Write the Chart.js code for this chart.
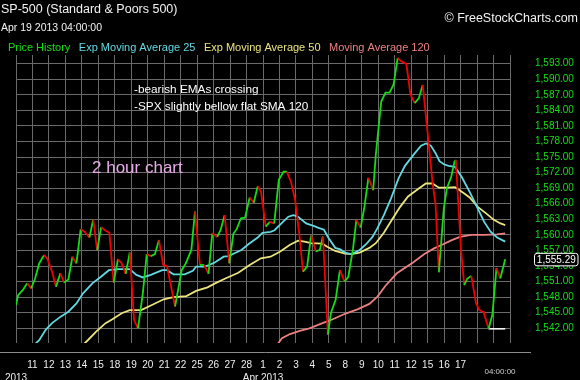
<!DOCTYPE html>
<html>
<head>
<meta charset="utf-8">
<script src="https://cdn.jsdelivr.net/npm/chart.js@4.4.1/dist/chart.umd.min.js"></script>
<style>
  html, body { margin: 0; padding: 0; background: #000; }
</style>
</head>
<body>
<canvas id="chart" width="580" height="380"></canvas>
<script>
// x is counted in trading days, 0 = Mar 8 2013
const dayLabels = ["", "11", "12", "13", "14", "15", "18", "19", "20", "21", "22", "25", "26", "27", "28",
    "1", "2", "3", "4", "5", "8", "9", "10", "11", "12", "15", "16", "17", "", "", ""]
const monthLabels = [["2013", 0], ["Apr 2013", 15]]
const yTicks = [1542, 1545, 1548, 1551, 1554, 1557, 1560, 1563, 1566, 1569, 1572, 1575, 1578, 1581, 1584, 1587, 1590, 1593]

const priceDays = [0, 0.13, 0.42, 0.68, 0.92, 1.16, 1.41, 1.70, 1.90, 2.19,
    2.43, 2.69, 2.92, 3.18, 3.43, 3.67, 3.93, 4.16, 4.46, 4.69,
    4.93, 5.17, 5.44, 5.67, 5.93, 6.19, 6.42, 6.66, 6.91, 7.17,
    7.41, 7.70, 7.94, 8.19, 8.44, 8.68, 8.94, 9.17, 9.66, 9.92,
    10.06, 10.31, 10.65, 10.87, 11.17, 11.43, 11.69, 11.92, 12.22, 12.42,
    12.67, 12.95, 13.20, 13.40, 13.66, 13.91, 14.19, 14.44, 14.68, 14.88,
    15.17, 15.41, 15.68, 15.96, 16.25, 16.45, 16.71, 16.95, 17.21, 17.43,
    17.68, 17.92, 18.21, 18.45, 18.64, 18.94, 19.13, 19.41, 19.67, 19.95,
    20.18, 20.47, 20.67, 20.93, 21.16, 21.40, 21.69, 21.85, 22.18, 22.44,
    22.69, 22.93, 23.18, 23.37, 23.62, 23.71, 23.95, 24.21, 24.46, 24.70,
    24.99, 25.29, 25.48, 25.68, 25.84, 25.98, 26.17, 26.43, 26.63, 26.71,
    27.02, 27.22, 27.41, 27.65, 27.94, 28.14, 28.40, 28.70, 28.93, 29.18,
    29.41, 29.71]
const priceValues = [1546.5, 1548.4, 1549.4, 1550.7, 1549.7, 1551.6, 1554.5, 1556.1, 1555.4, 1552.9,
    1550.0, 1552.6, 1550.8, 1551.4, 1555.8, 1554.5, 1561.1, 1560.6, 1559.5, 1563.0,
    1557.0, 1561.5, 1560.8, 1560.4, 1550.8, 1555.3, 1554.5, 1552.5, 1556.6, 1543.6,
    1542.0, 1548.7, 1556.3, 1555.9, 1556.3, 1559.0, 1554.2, 1554.0, 1546.2, 1550.7,
    1553.2, 1554.5, 1557.1, 1564.5, 1554.2, 1554.2, 1552.5, 1560.3, 1559.6, 1560.9,
    1563.8, 1554.5, 1560.2, 1561.1, 1563.2, 1563.3, 1567.2, 1566.2, 1569.4, 1568.3,
    1561.6, 1562.5, 1562.2, 1570.6, 1572.2, 1572.2, 1570.1, 1566.7, 1560.0, 1552.9,
    1553.9, 1559.9, 1556.8, 1557.1, 1559.7, 1540.8, 1545.0, 1547.5, 1553.2, 1551.0,
    1551.9, 1557.4, 1562.9, 1561.4, 1565.4, 1571.0, 1568.6, 1575.4, 1585.7, 1587.4,
    1587.4, 1589.0, 1594.1, 1593.5, 1593.1, 1592.9, 1587.1, 1585.4, 1586.3, 1588.9,
    1579.9, 1570.2, 1565.8, 1552.8, 1559.3, 1565.1, 1569.0, 1571.2, 1574.1, 1574.4,
    1557.4, 1550.3, 1551.6, 1552.1, 1546.8, 1545.5, 1545.1, 1541.9, 1544.6, 1553.6,
    1551.6, 1555.29]

const ema25Days = [1.10, 1.41, 1.80, 2.19, 2.69, 3.18, 3.67, 4.06, 4.65, 5.14, 5.64, 6.23, 6.91, 7.31, 7.70,
    8.19, 8.88, 9.17, 9.56, 10.25, 10.74, 10.94, 11.43, 11.73, 12.02, 12.61, 12.91, 13.30, 13.69, 14.19,
    14.68, 14.97, 15.46, 15.70, 16.15, 16.54, 16.84, 17.13, 17.62, 18.11, 18.41, 18.70, 18.96, 19.39, 19.69,
    19.98, 20.38, 20.87, 21.26, 21.65, 21.95, 22.34, 22.77, 23.23, 23.62, 24.21, 24.60, 24.90, 25.19, 25.49,
    25.72, 25.98, 26.27, 26.66, 27.06, 27.55, 28.04, 28.43, 28.82, 29.22, 29.71]
const ema25Values = [1538.8, 1539.7, 1541.7, 1543.0, 1544.2, 1545.2, 1546.8, 1548.7, 1550.7, 1551.9, 1553.2, 1553.4, 1553.4, 1552.3, 1551.8,
    1552.3, 1553.2, 1553.2, 1552.4, 1552.4, 1553.1, 1553.9, 1553.9, 1554.2, 1554.6, 1555.8, 1555.9, 1556.5, 1557.1, 1558.4,
    1559.5, 1560.4, 1560.6, 1560.9, 1562.3, 1563.5, 1563.8, 1563.5, 1562.2, 1561.7, 1561.3, 1561.0, 1559.5, 1557.5, 1557.2,
    1556.6, 1556.3, 1557.1, 1558.2, 1559.6, 1561.3, 1563.8, 1567.0, 1570.9, 1573.3, 1575.7, 1577.2, 1577.6, 1577.2, 1575.7,
    1574.2, 1573.6, 1573.3, 1573.1, 1571.2, 1568.3, 1565.1, 1562.5, 1560.6, 1559.5, 1558.7]

const ema50Days = [4.10, 4.36, 4.85, 5.44, 5.83, 6.42, 6.91, 7.60, 8.19, 8.97, 9.56, 10.35, 10.94, 11.63, 12.12,
    12.71, 13.50, 14.19, 14.87, 15.46, 16.05, 16.64, 17.13, 17.52, 17.92, 18.61, 18.90, 19.39, 19.98, 20.38,
    20.87, 21.46, 21.85, 22.34, 22.83, 23.33, 23.81, 24.40, 24.89, 25.29, 25.68, 26.17, 26.66, 27.16, 27.55,
    28.04, 28.53, 29.02, 29.42, 29.71]
const ema50Values = [1538.9, 1539.7, 1541.3, 1543.0, 1543.7, 1544.9, 1545.5, 1545.5, 1546.4, 1547.6, 1548.0, 1548.2, 1549.2, 1549.9, 1550.7,
    1551.6, 1552.7, 1554.2, 1555.5, 1555.8, 1556.8, 1558.1, 1558.9, 1558.7, 1558.4, 1558.3, 1557.7, 1556.9, 1556.4, 1556.3,
    1556.6, 1557.5, 1558.4, 1560.4, 1562.9, 1565.4, 1567.4, 1568.8, 1569.9, 1569.9, 1569.1, 1569.1, 1569.2, 1568.1, 1567.2,
    1565.4, 1564.2, 1562.9, 1562.2, 1561.9]

const sma120Days = [15.90, 16.15, 16.64, 17.23, 17.82, 18.61, 19.20, 19.98, 20.77, 21.46, 21.95, 22.44,
    23.13, 24.11, 24.80, 25.39, 25.88, 26.47, 26.96, 27.65, 28.43, 29.22, 29.71]
const sma120Values = [1539.0, 1540.1, 1540.9, 1541.5, 1542.0, 1543.0, 1543.7, 1544.8, 1545.7, 1546.7, 1548.1, 1550.2,
    1552.6, 1554.7, 1556.3, 1557.4, 1558.1, 1559.0, 1559.6, 1560.0, 1560.0, 1560.1, 1560.3]

const lowDays = [28.70, 29.71]
const lowValues = [1541.9, 1541.9]
const lastPrice = 1555.29

const notes = ["-bearish EMAs crossing", "-SPX slightly bellow flat SMA 120"]

const FONT = '"Liberation Sans", Arial, sans-serif'
const green = "#16dc16"
const red = "#f00000"

const toPoints = (days, vals) => days.map((d, i) => ({ x: d, y: vals[i] }))

const decor = {
    id: "decor",
    afterDraw(chart) {
        const c = chart.ctx
        const xs = chart.scales.x
        const ys = chart.scales.y
        c.save()
        c.textBaseline = "middle"

        c.fillStyle = "#f2f2f2"
        c.textAlign = "left"
        c.font = `12.5px ${FONT}`
        c.fillText("SP-500 (Standard & Poors 500)", 1, 10)
        c.font = `10.5px ${FONT}`
        c.fillText("Apr 19 2013 04:00:00", 1, 28.5)
        c.textAlign = "right"
        c.font = `12.5px ${FONT}`
        c.fillText("© FreeStockCharts.com", 578, 18.5)

        // legend: label text in the line colour
        c.textAlign = "left"
        c.font = `11px ${FONT}`
        let lx = 8
        chart.data.datasets.forEach(ds => {
            if (!ds.label) return
            c.fillStyle = ds.borderColor
            c.fillText(ds.label, lx, 47.5)
            lx += c.measureText(ds.label).width + 8.5
        })

        c.fillStyle = "#ffffff"
        c.font = `11.8px ${FONT}`
        notes.forEach((t, i) => c.fillText(t, 134, 90 + i * 16.7))

        c.fillStyle = "#e8aae8"
        c.font = `17px ${FONT}`
        c.fillText("2 hour chart", 92, 168.5)

        c.strokeStyle = "#8c8c8c"
        c.lineWidth = 1
        c.beginPath()
        c.moveTo(0, 352.5)
        c.lineTo(531, 352.5)
        c.stroke()

        c.fillStyle = "#eeeeee"
        c.font = `10px ${FONT}`
        monthLabels.forEach(([t, d]) => {
            const w = c.measureText(t).width
            c.fillText(t, Math.max(0, xs.getPixelForValue(d) - w / 2), 378)
        })

        c.fillStyle = "#cfcfcf"
        c.font = `8px ${FONT}`
        c.textAlign = "center"
        c.fillText("04:00:00", 500, 371.5)

        // last price marker
        const py = ys.getPixelForValue(lastPrice)
        c.fillStyle = "#000"
        c.strokeStyle = "#ffffff"
        c.beginPath()
        c.roundRect(534.5, py - 6, 43.5, 12.5, 2.5)
        c.fill()
        c.stroke()
        c.fillStyle = "#ffffff"
        c.font = `10px ${FONT}`
        c.fillText(lastPrice.toLocaleString("en-US", { minimumFractionDigits: 2 }), 556.3, py + 0.5)
        c.restore()
    }
}

new Chart(document.getElementById("chart"), {
    type: "line",
    data: {
        datasets: [
            {
                label: "Price History",
                data: toPoints(priceDays, priceValues),
                borderColor: green,
                borderWidth: 1.8,
                pointRadius: 0,
                segment: {
                    borderColor: s => s.p1.parsed.y >= s.p0.parsed.y ? green : red
                }
            },
            {
                label: "Exp Moving Average 25",
                data: toPoints(ema25Days, ema25Values),
                borderColor: "#62d8e2",
                borderWidth: 1.8,
                pointRadius: 0
            },
            {
                label: "Exp Moving Average 50",
                data: toPoints(ema50Days, ema50Values),
                borderColor: "#ece47c",
                borderWidth: 1.8,
                pointRadius: 0
            },
            {
                label: "Moving Average 120",
                data: toPoints(sma120Days, sma120Values),
                borderColor: "#ec8080",
                borderWidth: 1.8,
                pointRadius: 0
            },
            {
                data: toPoints(lowDays, lowValues),
                borderColor: "#ffffff",
                borderWidth: 1.5,
                pointRadius: 0
            }
        ]
    },
    options: {
        responsive: false,
        animation: false,
        layout: { padding: { top: 55, left: 1, right: 0, bottom: 0 } },
        plugins: {
            legend: { display: false },
            tooltip: { enabled: false }
        },
        scales: {
            x: {
                type: "linear",
                min: 0,
                max: 30,
                afterFit: s => { s.height = 37 },
                afterBuildTicks: s => { s.ticks = dayLabels.map((_, i) => ({ value: i })) },
                ticks: {
                    callback: v => dayLabels[v] || "",
                    color: "#eeeeee",
                    font: { family: FONT, size: 10 },
                    padding: 16,
                    maxRotation: 0,
                    autoSkip: false
                },
                grid: { color: "#6a6a6a", drawTicks: false },
                border: { display: false }
            },
            y: {
                position: "right",
                min: 1539.17,
                max: 1594.66,
                afterFit: s => { s.width = 70 },
                afterBuildTicks: s => { s.ticks = yTicks.map(v => ({ value: v })) },
                ticks: {
                    callback: v => v.toLocaleString("en-US", { minimumFractionDigits: 2 }),
                    color: green,
                    font: { family: FONT, size: 10 },
                    padding: 25
                },
                grid: { color: "#6a6a6a", drawTicks: false },
                border: { display: false }
            }
        }
    },
    plugins: [decor]
})
</script>
</body>
</html>
